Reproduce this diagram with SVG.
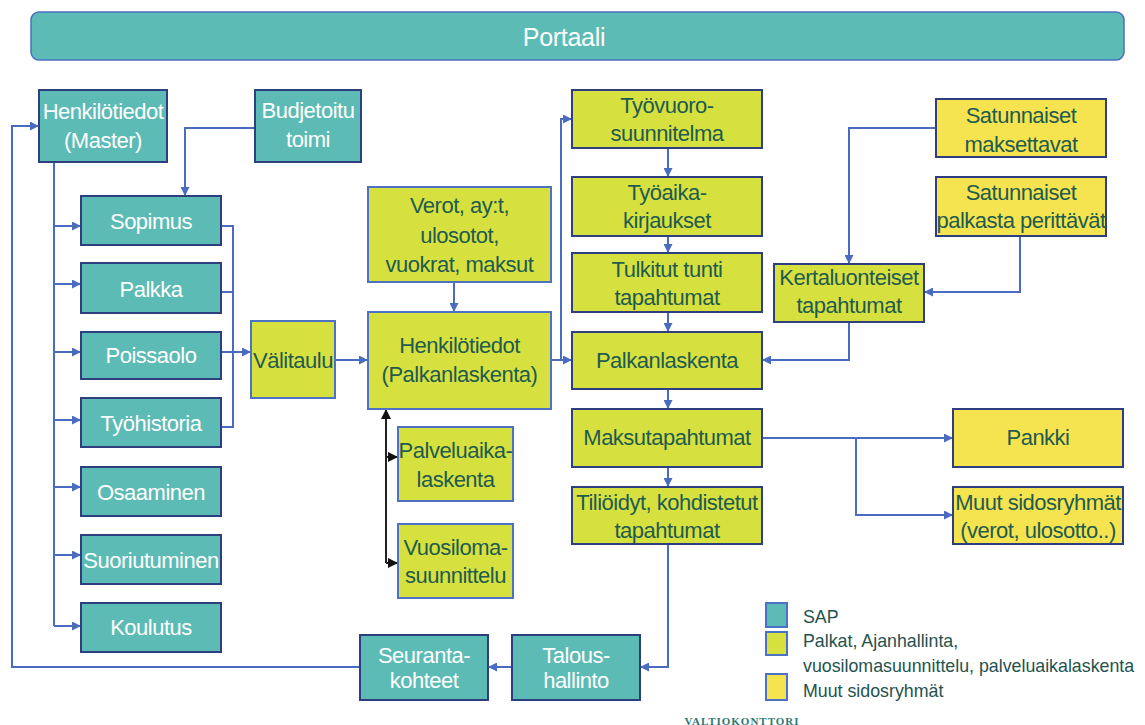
<svg xmlns="http://www.w3.org/2000/svg" width="1145" height="725" viewBox="0 0 1145 725">
<defs>
<style>
.sap{fill:#5CBBB4;stroke:#2F3E7E;stroke-width:2}
.pal{fill:#D6E140;stroke:#2F3E7E;stroke-width:2}
.pal2{fill:#D6E140;stroke:#4D72C4;stroke-width:2}
.muu{fill:#F5E450;stroke:#2F3E7E;stroke-width:2}
text{font-family:"Liberation Sans",Arial,sans-serif;font-size:22px;letter-spacing:-0.5px;text-anchor:middle}
.w{fill:#FFFFFF}
.d{fill:#1F5B4F}
.lg{font-size:17.8px;letter-spacing:0;text-anchor:start;fill:#24524E}
.c{fill:none;stroke:#4A6CC0;stroke-width:2}
.k{fill:none;stroke:#222222;stroke-width:2}
</style>
<marker id="ab" viewBox="0 0 10 10" refX="10" refY="5" markerWidth="9" markerHeight="9" markerUnits="userSpaceOnUse" orient="auto"><path d="M0,0 L10,5 L0,10 z" fill="#4A6CC0"/></marker>
<marker id="ak" viewBox="0 0 10 10" refX="10" refY="5" markerWidth="10" markerHeight="10" markerUnits="userSpaceOnUse" orient="auto"><path d="M0,0 L10,5 L0,10 z" fill="#111111"/></marker>
</defs>
<rect x="0" y="0" width="1145" height="725" fill="#FFFFFF"/>

<g id="portaali">
<rect x="31" y="12" width="1093" height="48" rx="8" fill="#5CBBB4" stroke="#4A6FC2" stroke-width="1.5"/>
<text x="564" y="46" class="w" style="font-size:25px;letter-spacing:-0.3px">Portaali</text>
</g>

<g id="connectors">
<path class="c" d="M360,667 H12 V126 H39" marker-end="url(#ab)"/>
<path class="c" d="M54,162 V626"/>
<path class="c" d="M54,226 H81" marker-end="url(#ab)"/>
<path class="c" d="M54,284 H81" marker-end="url(#ab)"/>
<path class="c" d="M54,352 H81" marker-end="url(#ab)"/>
<path class="c" d="M54,420 H81" marker-end="url(#ab)"/>
<path class="c" d="M54,487 H81" marker-end="url(#ab)"/>
<path class="c" d="M54,555 H81" marker-end="url(#ab)"/>
<path class="c" d="M54,626 H81" marker-end="url(#ab)"/>
<path class="c" d="M255,128 H185 V196" marker-end="url(#ab)"/>
<path class="c" d="M221,226 H233 V427 H221"/>
<path class="c" d="M221,292 H233"/>
<path class="c" d="M221,352 H251" marker-end="url(#ab)"/>
<path class="c" d="M335,360 H368" marker-end="url(#ab)"/>
<path class="c" d="M454,282 V312" marker-end="url(#ab)"/>
<path class="c" d="M551,360 H572" marker-end="url(#ab)"/>
<path class="c" d="M561,360 V119 H572" marker-end="url(#ab)"/>
<path class="c" d="M668,148 V177" marker-end="url(#ab)"/>
<path class="c" d="M668,236 V253" marker-end="url(#ab)"/>
<path class="c" d="M668,312 V332" marker-end="url(#ab)"/>
<path class="c" d="M668,389 V409" marker-end="url(#ab)"/>
<path class="c" d="M668,467 V487" marker-end="url(#ab)"/>
<path class="c" d="M668,544 V667 H640" marker-end="url(#ab)"/>
<path class="c" d="M512,667 H488" marker-end="url(#ab)"/>
<path class="c" d="M936,128 H849 V264" marker-end="url(#ab)"/>
<path class="c" d="M1020,236 V292 H924" marker-end="url(#ab)"/>
<path class="c" d="M849,322 V360 H762" marker-end="url(#ab)"/>
<path class="c" d="M762,438 H953" marker-end="url(#ab)"/>
<path class="c" d="M856,438 V515 H953" marker-end="url(#ab)"/>
<path class="k" d="M386,563 V409" marker-end="url(#ak)"/>
<path class="k" d="M386,457 H398" marker-end="url(#ak)"/>
<path class="k" d="M386,563 H398" marker-end="url(#ak)"/>
</g>

<g id="henkilotiedot-master"><rect class="sap" x="39" y="90" width="128" height="72"/><text class="w" x="103" y="119">Henkilötiedot</text><text class="w" x="103" y="148">(Master)</text></g>
<g id="budjetoitu-toimi"><rect class="sap" x="255" y="90" width="106" height="72"/><text class="w" x="308" y="118">Budjetoitu</text><text class="w" x="308" y="147">toimi</text></g>
<g id="sopimus"><rect class="sap" x="81" y="196" width="140" height="49"/><text class="w" x="151" y="229">Sopimus</text></g>
<g id="palkka"><rect class="sap" x="81" y="263" width="140" height="50"/><text class="w" x="151" y="297">Palkka</text></g>
<g id="poissaolo"><rect class="sap" x="81" y="332" width="140" height="47"/><text class="w" x="151" y="363">Poissaolo</text></g>
<g id="tyohistoria"><rect class="sap" x="81" y="398" width="140" height="49"/><text class="w" x="151" y="431">Työhistoria</text></g>
<g id="osaaminen"><rect class="sap" x="81" y="467" width="140" height="49"/><text class="w" x="151" y="500">Osaaminen</text></g>
<g id="suoriutuminen"><rect class="sap" x="81" y="535" width="140" height="49"/><text class="w" x="151" y="568">Suoriutuminen</text></g>
<g id="koulutus"><rect class="sap" x="81" y="603" width="140" height="49"/><text class="w" x="151" y="635">Koulutus</text></g>
<g id="seurantakohteet"><rect class="sap" x="360" y="635" width="128" height="65"/><text class="w" x="424" y="663">Seuranta-</text><text class="w" x="424" y="688">kohteet</text></g>
<g id="taloushallinto"><rect class="sap" x="512" y="635" width="128" height="65"/><text class="w" x="576" y="663">Talous-</text><text class="w" x="576" y="688">hallinto</text></g>

<g id="valitaulu"><rect class="pal2" x="251" y="321" width="84" height="77"/><text class="d" x="293" y="368">Välitaulu</text></g>
<g id="verot"><rect class="pal2" x="368" y="187" width="183" height="95"/><text class="d" x="459.5" y="213">Verot, ay:t,</text><text class="d" x="459.5" y="243">ulosotot,</text><text class="d" x="459.5" y="272">vuokrat, maksut</text></g>
<g id="henkilotiedot-palkanlaskenta"><rect class="pal2" x="368" y="312" width="183" height="97"/><text class="d" x="459.5" y="353">Henkilötiedot</text><text class="d" x="459.5" y="382">(Palkanlaskenta)</text></g>
<g id="palveluaikalaskenta"><rect class="pal2" x="398" y="427" width="115" height="74"/><text class="d" x="455.5" y="458">Palveluaika-</text><text class="d" x="455.5" y="487">laskenta</text></g>
<g id="vuosilomasuunnittelu"><rect class="pal2" x="398" y="524" width="115" height="74"/><text class="d" x="455.5" y="555">Vuosiloma-</text><text class="d" x="455.5" y="583">suunnittelu</text></g>
<g id="tyovuorosuunnitelma"><rect class="pal" x="572" y="90" width="190" height="58"/><text class="d" x="667" y="113">Työvuoro-</text><text class="d" x="667" y="141">suunnitelma</text></g>
<g id="tyoaikakirjaukset"><rect class="pal" x="572" y="177" width="190" height="59"/><text class="d" x="667" y="200">Työaika-</text><text class="d" x="667" y="228">kirjaukset</text></g>
<g id="tulkitut"><rect class="pal" x="572" y="253" width="190" height="59"/><text class="d" x="667" y="277">Tulkitut tunti</text><text class="d" x="667" y="305">tapahtumat</text></g>
<g id="palkanlaskenta"><rect class="pal" x="572" y="332" width="190" height="57"/><text class="d" x="667" y="368">Palkanlaskenta</text></g>
<g id="maksutapahtumat"><rect class="pal" x="572" y="409" width="190" height="58"/><text class="d" x="667" y="445">Maksutapahtumat</text></g>
<g id="tilioidyt"><rect class="pal" x="572" y="487" width="190" height="57"/><text class="d" x="667" y="510">Tiliöidyt, kohdistetut</text><text class="d" x="667" y="538">tapahtumat</text></g>
<g id="kertaluonteiset"><rect class="pal" x="774" y="264" width="150" height="58"/><text class="d" x="849" y="285">Kertaluonteiset</text><text class="d" x="849" y="313">tapahtumat</text></g>

<g id="satunnaiset-maksettavat"><rect class="muu" x="936" y="99" width="170" height="58"/><text class="d" x="1021" y="123">Satunnaiset</text><text class="d" x="1021" y="152">maksettavat</text></g>
<g id="satunnaiset-perittavat"><rect class="muu" x="936" y="177" width="170" height="59"/><text class="d" x="1021" y="200">Satunnaiset</text><text class="d" x="1021" y="228">palkasta perittävät</text></g>
<g id="pankki"><rect class="muu" x="953" y="409" width="170" height="58"/><text class="d" x="1038" y="445">Pankki</text></g>
<g id="muut-sidosryhmat"><rect class="muu" x="953" y="487" width="170" height="57"/><text class="d" x="1038" y="510">Muut sidosryhmät</text><text class="d" x="1038" y="538">(verot, ulosotto..)</text></g>

<g id="legend">
<rect class="sap" x="766" y="603" width="21" height="24" style="stroke:#4D72C4"/>
<rect class="pal" x="766" y="632" width="21" height="23" style="stroke:#4D72C4"/>
<rect class="muu" x="766" y="674" width="21" height="26" style="stroke:#4D72C4"/>
<text class="lg" x="803" y="623">SAP</text>
<text class="lg" x="803" y="647">Palkat, Ajanhallinta,</text>
<text class="lg" x="803" y="672">vuosilomasuunnittelu, palveluaikalaskenta</text>
<text class="lg" x="803" y="697">Muut sidosryhmät</text>
</g>
<text x="742" y="725" style="font-family:'Liberation Serif',serif;font-size:11px;font-weight:bold;letter-spacing:1px;fill:#2D7A76" textLength="115">VALTIOKONTTORI</text>
</svg>
